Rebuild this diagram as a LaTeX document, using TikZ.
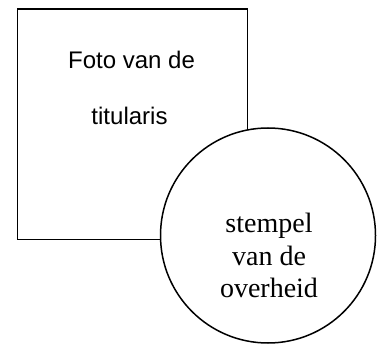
\documentclass[tikz,border=0pt]{standalone}
\usepackage{fontspec}
\setmainfont{Liberation Serif}
\newfontfamily\arialfont{Liberation Sans}
\begin{document}
\begin{tikzpicture}[x=1pt,y=1pt,
  shapeline/.style={draw=black,line width=1.5pt},
  sanslabel/.style={font=\arialfont\fontsize{24}{28}\selectfont,anchor=base,inner sep=0pt},
  seriflabel/.style={font=\fontsize{28}{32}\selectfont,align=center,anchor=base,inner sep=0pt}]
\useasboundingbox (0,0) rectangle (379,345);
\node[shapeline,minimum width=230pt,minimum height=230pt,inner sep=0pt,anchor=north west] (photo) at (16.5,336.5) {};
\node[sanslabel] (l1) at (131.5,276) {Foto van de};
\node[sanslabel] (l2) at (129.5,220) {titularis};
\node[shapeline,circle,fill=white,minimum size=215pt,inner sep=0pt] (stamp) at (268,109.5) {};
\node[seriflabel] (s1) at (269,112) {stempel};
\node[seriflabel] (s2) at (269,80) {van de};
\node[seriflabel] (s3) at (269,47.5) {overheid};
\end{tikzpicture}
\end{document}
